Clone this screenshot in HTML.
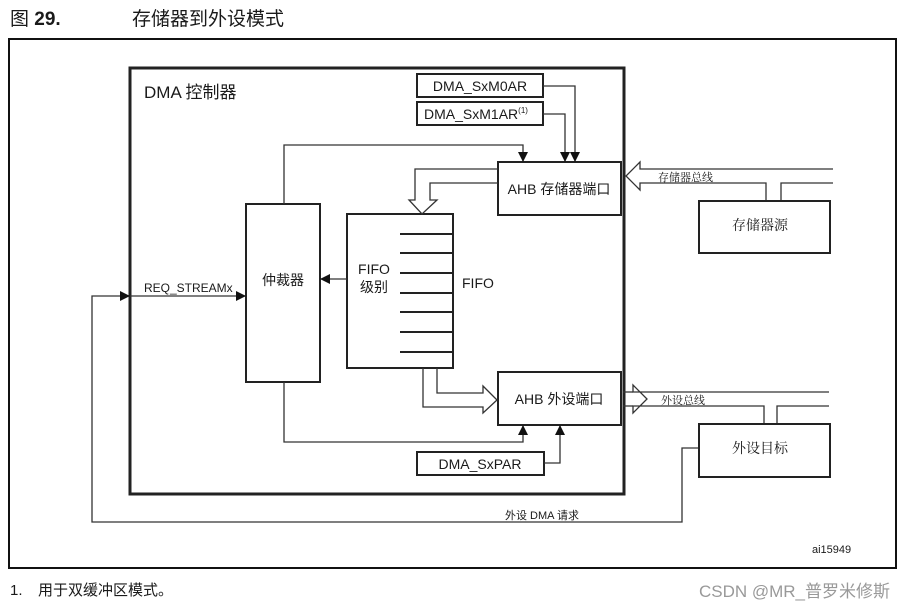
<!DOCTYPE html>
<html><head><meta charset="utf-8"><style>
html,body{margin:0;padding:0;background:#fff;}
svg{display:block;}
text{font-family:"Liberation Sans","Noto Sans CJK SC",sans-serif;fill:#1a1a1a;}
.s{font-family:"Noto Serif CJK SC","Liberation Serif",serif;}
</style></head><body>
<svg width="905" height="610" viewBox="0 0 905 610" xmlns="http://www.w3.org/2000/svg">
<defs>
<marker id="a" markerWidth="10" markerHeight="10" refX="9" refY="5" orient="auto" markerUnits="userSpaceOnUse">
<path d="M0,0 L10,5 L0,10 z" fill="#111"/></marker>
</defs>
<text x="10" y="25" font-size="19">图 <tspan font-weight="bold">29.</tspan></text>
<text x="132" y="25" font-size="19">存储器到外设模式</text>
<rect x="9" y="39" width="887" height="529" fill="none" stroke="#111" stroke-width="2"/>
<rect x="130" y="68" width="494" height="426" fill="none" stroke="#222" stroke-width="3"/>
<text x="144" y="98" font-size="17">DMA 控制器</text>

<rect x="417" y="74" width="126" height="23" fill="none" stroke="#222" stroke-width="2"/>
<text x="480" y="91" font-size="14" text-anchor="middle">DMA_SxM0AR</text>
<rect x="417" y="102" width="126" height="23" fill="none" stroke="#222" stroke-width="2"/>
<text x="476" y="119" font-size="14" text-anchor="middle">DMA_SxM1AR<tspan font-size="8" dy="-6">(1)</tspan></text>
<rect x="417" y="452" width="127" height="23" fill="none" stroke="#222" stroke-width="2"/>
<text x="480" y="469" font-size="14" text-anchor="middle">DMA_SxPAR</text>

<rect x="498" y="162" width="123" height="53" fill="none" stroke="#222" stroke-width="2"/>
<text x="559" y="194" font-size="14" text-anchor="middle">AHB 存储器端口</text>
<rect x="498" y="372" width="123" height="53" fill="none" stroke="#222" stroke-width="2"/>
<text x="559" y="404" font-size="14" text-anchor="middle">AHB 外设端口</text>

<rect x="246" y="204" width="74" height="178" fill="none" stroke="#222" stroke-width="2"/>
<text x="283" y="285" font-size="14" text-anchor="middle">仲裁器</text>

<rect x="347" y="214" width="106" height="154" fill="none" stroke="#222" stroke-width="2"/>
<g stroke="#222" stroke-width="2">
<line x1="400" y1="234" x2="453" y2="234"/><line x1="400" y1="253" x2="453" y2="253"/>
<line x1="400" y1="273" x2="453" y2="273"/><line x1="400" y1="293" x2="453" y2="293"/>
<line x1="400" y1="312" x2="453" y2="312"/><line x1="400" y1="332" x2="453" y2="332"/>
<line x1="400" y1="352" x2="453" y2="352"/></g>
<text x="374" y="274" font-size="14" text-anchor="middle">FIFO</text>
<text x="374" y="292" font-size="14" text-anchor="middle">级别</text>
<text x="462" y="288" font-size="14">FIFO</text>

<g fill="none" stroke="#333" stroke-width="1.3">
<polyline points="543,86 575,86 575,161" marker-end="url(#a)"/>
<polyline points="543,114 565,114 565,161" marker-end="url(#a)"/>
<polyline points="284,204 284,145 523,145 523,161" marker-end="url(#a)"/>
<polyline points="284,382 284,442 523,442 523,426" marker-end="url(#a)"/>
<polyline points="544,463 560,463 560,426" marker-end="url(#a)"/>
<line x1="347" y1="279" x2="321" y2="279" marker-end="url(#a)"/>
<polyline points="699,448 682,448 682,522 92,522 92,296 129,296" marker-end="url(#a)"/>
<line x1="130" y1="296" x2="245" y2="296" marker-end="url(#a)"/>
<polyline points="498,169 415,169 415,200 409,200 422,214 437,200 430,200 430,183 498,183"/>
<polyline points="423,368 423,407 483,407 483,413 497,400 483,386 483,393 437,393 437,368"/>
<polyline points="833,169 640,169 640,162 626,176 640,190 640,183 766,183 766,201"/>
<polyline points="781,201 781,183 833,183"/>
<polyline points="829,392 633,392 633,385 647,399 633,413 633,406 764,406 764,424"/>
<polyline points="777,424 777,406 829,406"/>
<line x1="623" y1="392" x2="633" y2="392"/>
<line x1="623" y1="406" x2="633" y2="406"/>
</g>

<rect x="699" y="201" width="131" height="52" fill="none" stroke="#222" stroke-width="2"/>
<text x="760" y="230" font-size="14" text-anchor="middle" class="s">存储器源</text>
<rect x="699" y="424" width="131" height="53" fill="none" stroke="#222" stroke-width="2"/>
<text x="760" y="453" font-size="14" text-anchor="middle" class="s">外设目标</text>
<text x="658" y="181" font-size="11" class="s">存储器总线</text>
<text x="661" y="404" font-size="11" class="s">外设总线</text>
<text x="144" y="292" font-size="12">REQ_STREAMx</text>
<text x="505" y="519" font-size="11">外设 DMA 请求</text>
<text x="812" y="553" font-size="11">ai15949</text>

<text x="10" y="595" font-size="15">1.</text>
<text x="38" y="595" font-size="15">用于双缓冲区模式。</text>
<text x="890" y="597" font-size="17" text-anchor="end" style="fill:#999">CSDN @MR_普罗米修斯</text>
</svg>
</body></html>
